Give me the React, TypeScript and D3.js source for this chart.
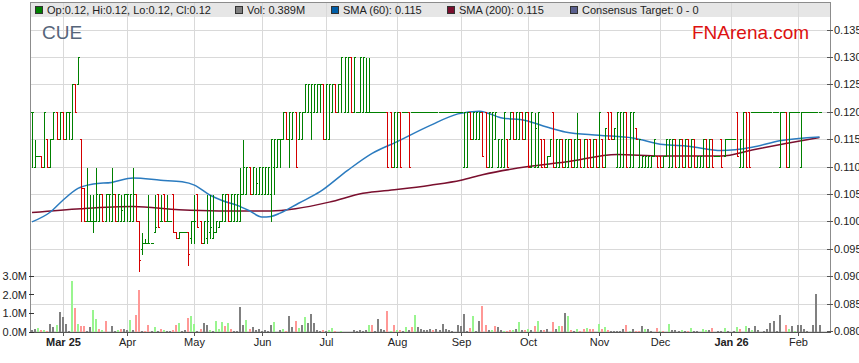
import * as d3 from "d3";

// prices in thousandths of a dollar: [open, high, low, close]
const ohlc: number[][] = [
  [120, 120, 110, 120], [110, 115, 110, 112], [112, 112, 112, 112], [112, 112, 110, 110], [110, 120, 110, 120],
  [115, 115, 110, 110], [110, 115, 110, 115], [115, 120, 115, 120], [120, 120, 115, 115], [115, 120, 115, 120],
  [120, 120, 115, 115], [115, 120, 115, 120], [120, 120, 115, 120], [115, 125, 115, 125], [125, 125, 120, 120],
  [125, 130, 125, 130], [115, 115, 100, 106], [106, 106, 100, 100], [100, 110, 100, 100], [100, 105, 100, 100],
  [100, 105, 98, 100], [100, 110, 100, 105], [100, 105, 100, 105], [105, 105, 100, 100], [100, 105, 100, 105],
  [105, 105, 100, 105], [100, 110, 100, 105], [105, 105, 100, 100], [100, 105, 100, 105], [100, 105, 100, 102],
  [100, 105, 100, 105], [105, 105, 100, 105], [100, 105, 100, 105], [100, 110, 100, 105], [105, 105, 100, 100],
  [100, 100, 91, 93], [95, 98, 94, 96], [96, 97, 96, 96], [96, 105, 96, 96], [96, 96, 96, 96],
  [98, 105, 98, 99], [105, 105, 99, 99], [100, 105, 100, 100], [105, 105, 100, 100], [100, 105, 100, 100],
  [100, 100, 100, 100], [105, 105, 98, 98], [98, 98, 97, 97], [97, 98, 97, 98], [98, 98, 98, 98],
  [98, 98, 98, 98], [98, 98, 92, 94], [97, 100, 96, 100], [100, 105, 96, 100], [105, 105, 99, 99],
  [100, 100, 96, 96], [96, 100, 96, 100], [97, 105, 96, 100], [98, 105, 97, 99], [97, 105, 97, 98],
  [98, 100, 98, 100], [99, 100, 99, 100], [100, 105, 100, 105], [100, 105, 100, 105], [105, 105, 100, 100],
  [100, 105, 100, 105], [100, 105, 100, 105], [100, 105, 100, 105], [100, 110, 100, 105], [105, 115, 105, 110],
  [105, 110, 105, 110], [110, 110, 105, 105], [105, 110, 105, 110], [105, 110, 105, 107], [105, 110, 105, 110],
  [105, 110, 105, 110], [105, 110, 105, 110], [105, 110, 105, 110], [105, 115, 100, 115], [110, 115, 105, 115],
  [110, 115, 110, 115], [115, 115, 110, 115], [115, 120, 115, 120], [120, 120, 115, 115], [115, 120, 110, 120],
  [115, 120, 115, 120], [120, 120, 110, 110], [115, 120, 115, 120], [115, 120, 115, 120], [120, 125, 120, 125],
  [120, 125, 120, 125], [120, 125, 115, 125], [120, 125, 120, 125], [120, 125, 120, 125], [125, 125, 120, 125],
  [125, 125, 115, 115], [115, 125, 115, 125], [115, 125, 115, 125], [120, 125, 120, 125], [125, 125, 120, 120],
  [120, 125, 120, 125], [125, 130, 120, 130], [120, 130, 120, 130], [120, 130, 120, 130], [130, 130, 120, 120],
  [120, 130, 120, 130], [120, 120, 120, 120], [120, 130, 120, 130], [120, 130, 120, 130], [120, 130, 120, 120],
  [120, 130, 120, 120], [120, 120, 120, 120], [120, 120, 120, 120], [120, 120, 120, 120], [120, 120, 120, 120],
  [120, 120, 120, 120], [120, 120, 110, 110], [120, 120, 110, 110], [110, 120, 110, 120], [110, 120, 110, 120],
  [120, 120, 110, 110], [120, 120, 120, 120], [120, 120, 120, 120], [120, 120, 110, 110], [120, 120, 120, 120],
  [120, 120, 120, 120], [120, 120, 120, 120], [120, 120, 120, 120], [120, 120, 120, 120], [120, 120, 120, 120],
  [120, 120, 120, 120], [120, 120, 120, 120], [120, 120, 120, 120], [120, 120, 120, 120], [120, 120, 120, 120],
  [120, 120, 120, 120], [120, 120, 120, 120], [120, 120, 120, 120], [120, 120, 120, 120], [120, 120, 120, 120],
  [120, 120, 120, 120], [110, 120, 110, 120], [110, 120, 110, 120], [120, 120, 115, 115], [115, 120, 115, 120],
  [115, 120, 115, 120], [115, 120, 115, 120], [120, 120, 112, 112], [120, 120, 110, 110], [110, 120, 110, 120],
  [110, 120, 110, 120], [115, 120, 115, 120], [110, 115, 110, 115], [110, 115, 110, 115], [110, 120, 110, 120],
  [115, 115, 110, 110], [115, 120, 115, 120], [120, 120, 115, 115], [115, 120, 115, 120], [115, 120, 115, 120],
  [120, 120, 115, 115], [115, 120, 115, 120], [120, 120, 110, 110], [110, 120, 110, 120], [110, 120, 110, 117],
  [110, 120, 110, 120], [115, 115, 110, 110], [115, 115, 110, 110], [110, 112, 110, 112], [112, 115, 112, 115],
  [120, 120, 110, 110], [110, 115, 110, 115], [110, 115, 110, 115], [115, 115, 110, 110], [110, 115, 110, 115],
  [110, 115, 110, 115], [115, 115, 110, 110], [110, 115, 110, 115], [110, 120, 110, 115], [115, 115, 110, 110],
  [110, 115, 110, 115], [115, 115, 110, 110], [115, 115, 110, 110], [110, 115, 110, 115], [115, 115, 110, 110],
  [110, 120, 110, 120], [115, 115, 110, 110], [110, 117, 110, 117], [120, 120, 115, 115], [120, 120, 115, 115],
  [115, 117, 115, 117], [110, 120, 110, 120], [110, 120, 110, 120], [110, 120, 110, 120], [120, 120, 110, 110],
  [110, 120, 110, 120], [110, 120, 110, 120], [117, 117, 115, 115], [110, 115, 110, 115], [110, 112, 110, 112],
  [110, 112, 110, 112], [110, 112, 110, 112], [110, 112, 110, 112], [112, 115, 112, 115], [112, 112, 110, 110],
  [112, 112, 110, 110], [110, 112, 110, 112], [112, 115, 112, 115], [110, 115, 110, 115], [110, 115, 110, 115],
  [115, 115, 110, 110], [110, 115, 110, 115], [115, 115, 110, 110], [110, 115, 110, 115], [115, 115, 110, 110],
  [110, 115, 110, 115], [115, 115, 110, 110], [110, 112, 110, 112], [110, 112, 110, 112], [110, 115, 110, 115],
  [115, 115, 110, 110], [110, 115, 110, 115], [115, 115, 110, 110], [112, 112, 112, 112], [112, 112, 112, 112],
  [115, 115, 110, 110], [112, 115, 112, 115], [115, 115, 115, 115], [115, 115, 115, 115], [115, 115, 115, 115],
  [120, 120, 112, 112], [110, 115, 110, 115], [110, 120, 110, 120], [120, 120, 110, 110], [120, 120, 110, 110],
  [120, 120, 120, 120], [120, 120, 120, 120], [120, 120, 120, 120], [120, 120, 120, 120], [120, 120, 120, 120],
  [120, 120, 120, 120], [120, 120, 120, 120], [120, 120, 120, 120], [120, 120, 120, 120], [110, 120, 110, 120],
  [120, 120, 120, 120], [120, 120, 110, 110], [110, 120, 110, 120], [120, 120, 120, 120], [120, 120, 120, 120],
  [120, 120, 120, 120], [110, 120, 110, 120], [120, 120, 120, 120], [120, 120, 120, 120], [120, 120, 120, 120],
  [120, 120, 120, 120], [120, 120, 120, 120], [120, 120, 120, 120],
];

// daily volume, millions of shares
const volume = [
  0.09, 0.15, 0.21, 0.09, 0.12, 0.07, 0.45, 0.27, 0.39, 1.08,
  0.8, 0.45, 0.05, 2.72, 1.3, 0.45, 0.3, 0.3, 0.07, 0.27,
  1.17, 0.68, 0.18, 0.11, 0.6, 0.02, 0.32, 0.05, 0.09, 0.18,
  0.14, 0.09, 0.66, 0.09, 0.9, 2.25, 0.07, 0.05, 0.39, 0.03,
  0.27, 0.03, 0.18, 0.12, 0.03, 0.03, 0.09, 0.39, 0.5, 0.03,
  0.09, 0.75, 0.84, 0.43, 0.05, 0.18, 0.48, 0.36, 0.12, 0.05,
  0.57, 0.18, 0.54, 0.3, 0.5, 0.18, 0.07, 0.07, 1.35, 0.36,
  0.63, 0.18, 0.27, 0.11, 0.18, 0.07, 0.11, 0.07, 0.36, 0.54,
  0.02, 0.11, 0.18, 0.07, 0.84, 0.27, 0.6, 0.21, 0.39, 0.8,
  0.5, 0.98, 0.5, 0.11, 0.05, 0.09, 0.05, 0.12, 0.23, 0.05,
  0.02, 0.05, 0.02, 0.02, 0.02, 0.09, 0.05, 0.09, 0.05, 0.11,
  0.39, 0.39, 0.05, 0.72, 0.18, 0.12, 1.1, 0.05, 0.39, 0.12,
  0.11, 0.05, 0.27, 0.11, 0.29, 0.9, 0.27, 0.14, 0.11, 0.11,
  0.18, 0.11, 0.14, 0.11, 0.45, 0.14, 0.11, 0.05, 0.02, 0.39,
  0.32, 0.98, 0.05, 0.22, 0.86, 0.05, 0.57, 1.4, 0.39, 0.11,
  0.11, 0.32, 0.27, 0.11, 0.07, 0.05, 0.11, 0.11, 0.18, 0.54,
  0.11, 0.09, 0.18, 0.09, 0.32, 0.57, 0.11, 0.09, 0.14, 0.02,
  0.54, 0.18, 0.32, 0.32, 1.02, 0.86, 0.11, 0.05, 0.14, 0.07,
  0.18, 0.22, 0.18, 0.18, 0.02, 0.45, 0.14, 0.29, 0.11, 0.05,
  0.05, 0.05, 0.07, 0.18, 0.39, 0.07, 0.14, 0.05, 0.05, 0.32,
  0.14, 0.14, 0.05, 0.02, 0.22, 0.05, 0.05, 0.02, 0.45, 0.11,
  0.11, 0.05, 0.11, 0.05, 0.05, 0.22, 0.05, 0.05, 0.02, 0.14,
  0.09, 0.11, 0.22, 0.02, 0.05, 0.05, 0.22, 0.05, 0.02, 0.05,
  0.25, 0.14, 0.02, 0.32, 0.22, 0.11, 0.32, 0.11, 0.02, 0.07,
  0.18, 0.5, 0.61, 0.05, 0.93, 0.02, 0.36, 0.14, 0.32, 0.07,
  0.39, 0.39, 0.18, 0.05, 0.02, 0.36, 2.05, 0.389,
];

// day's move for the volume colour: u = up, d = down, n = unchanged
const volumeMove =
  "nnududnnun" + "nnnududdnn" + "uududnnnud" + "nnunddnddn" + "undunnddun" +
  "nduundnnun" + "uuududnnnn" + "udnnnnnnnu" + "nnudnndunu" + "nnnnndnuud" +
  "nunnnnnnnn" + "udnnnndudu" + "dnundunnnn" + "ndnnnnnnnn" + "nnndunnddn" +
  "udnnuddunu" + "ndundundnn" + "dnudnudnud" + "duddnudu dn".replace(" ", "") + "nnnndunddn" +
  "unnndudnun" + "nnundunnnu" + "undnnnunnn" + "udnununnnn" + "nnnnnndunu" +
  "nnnnnnnn";

const sma60Index = [0, 6, 10, 15, 20, 26, 33, 42, 49, 53, 58, 62, 67, 71, 75, 78, 81, 87, 94, 103, 111, 119, 130, 139, 146, 153, 161, 168, 174, 185, 196, 206, 214, 225, 235, 244, 257];
const sma60 = [0.1, 0.1018, 0.1039, 0.1061, 0.1069, 0.1072, 0.108, 0.1076, 0.1073, 0.1067, 0.1049, 0.1039, 0.103, 0.102, 0.1009, 0.101, 0.1016, 0.1034, 0.1055, 0.1094, 0.1125, 0.1146, 0.1176, 0.1197, 0.1202, 0.119, 0.1185, 0.1173, 0.1164, 0.1158, 0.1153, 0.1141, 0.1138, 0.113, 0.1136, 0.1148, 0.1155];

const sma200Index = [0, 16, 33, 48, 61, 78, 86, 97, 108, 119, 130, 140, 147, 162, 174, 191, 205, 225, 235, 246, 257];
const sma200 = [0.1017, 0.1024, 0.1028, 0.1022, 0.102, 0.102, 0.1024, 0.1036, 0.1052, 0.1059, 0.1067, 0.1076, 0.1086, 0.1101, 0.1109, 0.1123, 0.112, 0.112, 0.1131, 0.1143, 0.1154];

const priceTicks = [0.08, 0.085, 0.09, 0.095, 0.1, 0.105, 0.11, 0.115, 0.12, 0.125, 0.13, 0.135];
const volumeTicks = [0, 1, 2, 3];

const legendLabels = [
  "Op:0.12, Hi:0.12, Lo:0.12, Cl:0.12",
  "Vol: 0.389M",
  "SMA (60): 0.115",
  "SMA (200): 0.115",
  "Consensus Target: 0 - 0",
];

const code = "CUE";
const firstDay = new Date(2025, 1, 17);

const FONT = "'Liberation Sans', Arial, sans-serif";
const UP = "#008000";
const DOWN = "#d40000";
const legendColors = [UP, "#808080", "#005ea8", "#7a0f2e", "#5a5f8e"];
const legendX = [35, 235, 331, 447, 570];

export default function App() {
  const width = 859;
  const height = 363;
  const left = 30.5;
  const right = 830.5;
  const bottom = 332.5;

  // one slot per weekday
  const dates: Date[] = [];
  const d = new Date(firstDay);
  while (dates.length < ohlc.length) {
    if (d.getDay() !== 0 && d.getDay() !== 6) dates.push(new Date(d));
    d.setDate(d.getDate() + 1);
  }

  const x = d3.scaleLinear().domain([0, ohlc.length - 1]).range([32, 819.5]);
  const y = d3.scaleLinear().domain([0.08, 0.135]).range([331.5, 30]);
  const yVol = d3.scaleLinear().domain([0, 3]).range([332, 276]);
  const px = (i: number) => Math.round(x(i));
  const py = (v: number) => Math.floor(y(v)) + 0.5;

  const monthStarts = dates
    .map((dt, i) => ({ dt, i }))
    .filter(({ dt, i }) => i > 0 && dt.getMonth() !== dates[i - 1].getMonth());

  const fmtMonth = d3.timeFormat("%b");
  const fmtMonthYear = d3.timeFormat("%b %y");

  const line = d3
    .line<[number, number]>()
    .x((p) => x(p[0]))
    .y((p) => y(p[1]))
    .curve(d3.curveMonotoneX);

  const sma60Path = line(sma60Index.map((i, k) => [i, sma60[k]])) || "";
  const sma200Path = line(sma200Index.map((i, k) => [i, sma200[k]])) || "";

  return (
    <svg
      width={width}
      height={height}
      style={{ position: "absolute", left: 0, top: 0, background: "#fff" }}
      fontFamily={FONT}
    >
      {/* legend band */}
      <rect x={31} y={3} width={799} height={14} fill="#e6e6e6" />

      {/* grid */}
      <g stroke="#d9d9d9" strokeWidth={1} shapeRendering="crispEdges">
        {priceTicks.map((t) => (
          <line key={t} x1={left} x2={right} y1={py(t)} y2={py(t)} />
        ))}
        {monthStarts.map(({ i }) => (
          <line key={i} x1={px(i) + 0.5} x2={px(i) + 0.5} y1={3} y2={bottom} />
        ))}
      </g>

      {/* volume */}
      <g shapeRendering="crispEdges">
        {volume.map((v, i) => {
          const m = volumeMove[i];
          const fill = m === "u" ? "#99f58f" : m === "d" ? "#ff9896" : "#808080";
          const top = yVol(v);
          return <rect key={i} x={px(i) - 1} y={top} width={2} height={Math.max(0, 332 - top)} fill={fill} />;
        })}
      </g>

      {/* SMA lines */}
      <path d={sma200Path} fill="none" stroke="#7a0f2e" strokeWidth={1.5} />
      <path d={sma60Path} fill="none" stroke="#2b7bbf" strokeWidth={1.5} />

      {/* OHLC bars */}
      <g shapeRendering="crispEdges" strokeWidth={1} fill="none">
        {ohlc.map(([o, h, l, c], i) => {
          const cx = px(i) + 0.5;
          const yo = py(o / 1000);
          const yh = py(h / 1000);
          const yl = py(l / 1000);
          const yc = py(c / 1000);
          const col = c >= o ? UP : DOWN;
          return (
            <path
              key={i}
              d={`M${cx},${yh}V${yl}M${cx - 1.5},${yo}H${cx + 0.5}M${cx - 0.5},${yc}H${cx + 1.5}`}
              stroke={col}
            />
          );
        })}
      </g>

      {/* frame */}
      <path
        d={`M${left},${bottom}V2.5H${right}V${bottom}`}
        fill="none"
        stroke="#8c8c8c"
        shapeRendering="crispEdges"
      />
      <line x1={left} x2={right} y1={bottom} y2={bottom} stroke="#555" shapeRendering="crispEdges" />

      {/* x axis */}
      <g shapeRendering="crispEdges">
        {monthStarts.map(({ i, dt }, k) => {
          const withYear = k === 0 || dt.getMonth() === 0;
          return (
            <g key={i}>
              <line x1={px(i) + 0.5} x2={px(i) + 0.5} y1={bottom} y2={bottom + 3} stroke="#555" />
              <text
                x={px(i) + 0.5}
                y={346}
                textAnchor="middle"
                fontSize={11}
                fontWeight={withYear ? "bold" : "normal"}
                fill="#222"
              >
                {withYear ? fmtMonthYear(dt) : fmtMonth(dt)}
              </text>
            </g>
          );
        })}
      </g>

      {/* price axis */}
      <g>
        {priceTicks.map((t) => (
          <g key={t}>
            <line x1={827} x2={833} y1={py(t)} y2={py(t)} stroke="#555" shapeRendering="crispEdges" />
            <text x={834} y={py(t)} dy="0.35em" fontSize={11} fill="#222">
              {d3.format(".3f")(t)}
            </text>
          </g>
        ))}
      </g>

      {/* volume axis */}
      <g>
        {volumeTicks.map((t) => (
          <g key={t}>
            <line
              x1={29}
              x2={34}
              y1={Math.floor(yVol(t)) + 0.5}
              y2={Math.floor(yVol(t)) + 0.5}
              stroke="#333"
              shapeRendering="crispEdges"
            />
            <text x={27} y={yVol(t)} dy="0.35em" textAnchor="end" fontSize={11} fill="#222">
              {d3.format(".1f")(t) + "M"}
            </text>
          </g>
        ))}
      </g>

      {/* legend */}
      <g>
        {legendLabels.map((lab, k) => (
          <g key={lab}>
            <rect
              x={legendX[k] + 0.5}
              y={6.5}
              width={7}
              height={7}
              fill={legendColors[k]}
              stroke="#333"
              shapeRendering="crispEdges"
            />
            <text x={legendX[k] + 12} y={14} fontSize={11} fill="#222">
              {lab}
            </text>
          </g>
        ))}
      </g>

      <text x={42} y={39} fontSize={19} fill="#56657a">
        {code}
      </text>
      <text x={692} y={39} fontSize={19} fill="#dd1111">
        FNArena.com
      </text>
    </svg>
  );
}
